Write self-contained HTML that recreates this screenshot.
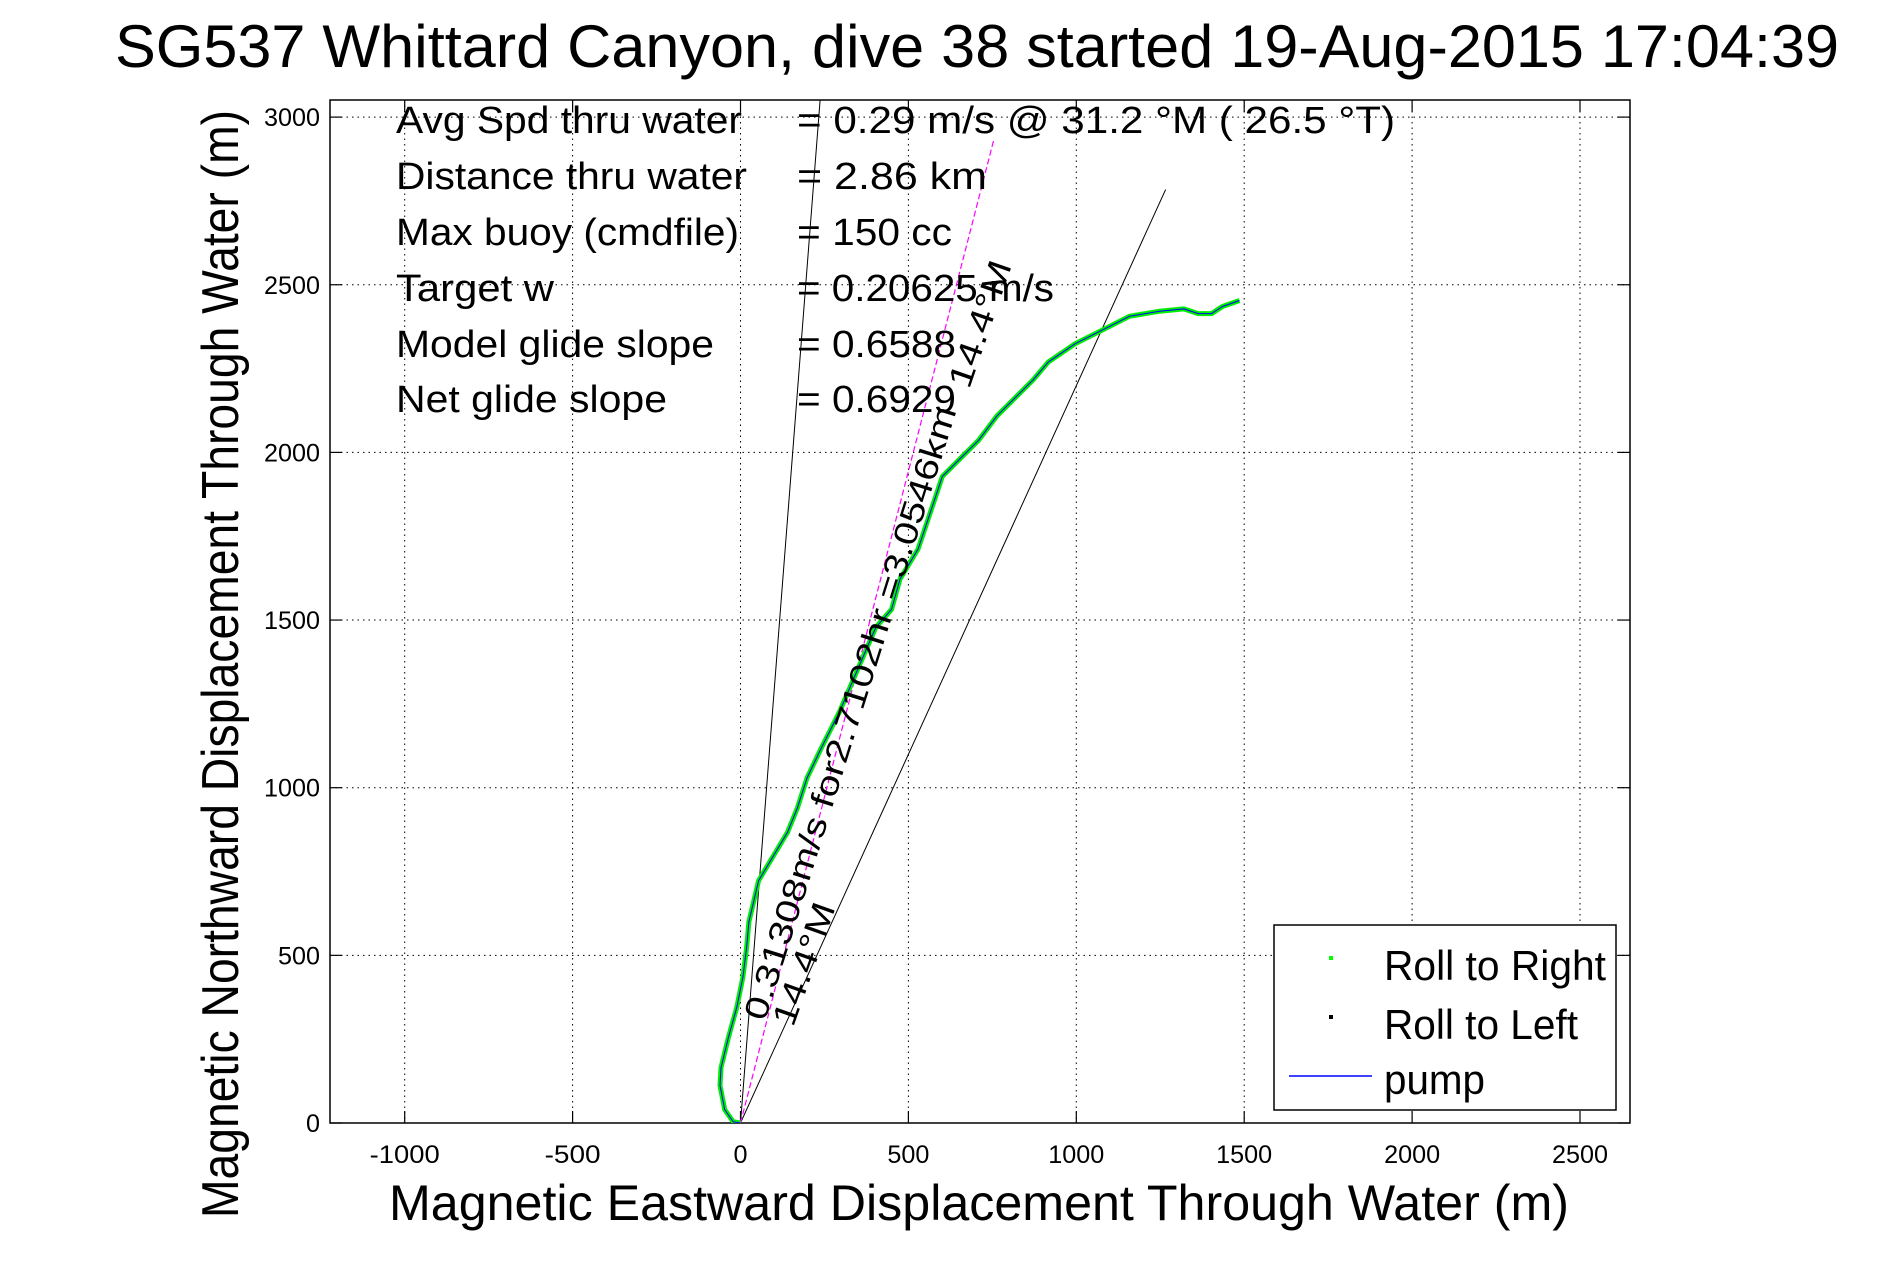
<!DOCTYPE html>
<html><head><meta charset="utf-8"><style>
html,body{margin:0;padding:0;background:#fff;}
svg text{font-family:"Liberation Sans",sans-serif;fill:#000;}
</style></head><body>
<svg id="chart" width="1891" height="1262" xmlns="http://www.w3.org/2000/svg">
<rect width="1891" height="1262" fill="#fff"/>
<defs><clipPath id="pc"><rect x="330" y="100" width="1300" height="1023"/></clipPath></defs>
<text x="115" y="67" font-size="60" textLength="1724" lengthAdjust="spacingAndGlyphs">SG537 Whittard Canyon, dive 38 started 19-Aug-2015 17:04:39</text>
<g id="grid"></g>
<g id="axes"></g>
<g id="marks" clip-path="url(#pc)"></g>
<g id="ann">
<text x="396" y="133" font-size="38" textLength="346" lengthAdjust="spacingAndGlyphs">Avg Spd thru water</text>
<text x="396" y="189" font-size="38" textLength="351" lengthAdjust="spacingAndGlyphs">Distance thru water</text>
<text x="396" y="245" font-size="38" textLength="343" lengthAdjust="spacingAndGlyphs">Max buoy (cmdfile)</text>
<text x="396" y="301" font-size="38" textLength="158" lengthAdjust="spacingAndGlyphs">Target w</text>
<text x="396" y="357" font-size="38" textLength="318" lengthAdjust="spacingAndGlyphs">Model glide slope</text>
<text x="396" y="412" font-size="38" textLength="271" lengthAdjust="spacingAndGlyphs">Net glide slope</text>
<text x="797" y="133" font-size="38" textLength="598" lengthAdjust="spacingAndGlyphs">=  0.29 m/s @  31.2 °M ( 26.5 °T)</text>
<text x="797" y="189" font-size="38" textLength="190" lengthAdjust="spacingAndGlyphs">=  2.86 km</text>
<text x="797" y="245" font-size="38" textLength="155" lengthAdjust="spacingAndGlyphs">= 150 cc</text>
<text x="797" y="301" font-size="38" textLength="257" lengthAdjust="spacingAndGlyphs">= 0.20625 m/s</text>
<text x="797" y="357" font-size="38" textLength="159" lengthAdjust="spacingAndGlyphs">= 0.6588</text>
<text x="797" y="412" font-size="38" textLength="159" lengthAdjust="spacingAndGlyphs">= 0.6929</text>
<text transform="translate(765,1022) rotate(-72.6)" font-size="33" textLength="641" lengthAdjust="spacingAndGlyphs">0.31308m/s for2.7102hr =3.0546km</text>
<text transform="translate(793,1028) rotate(-70.5)" font-size="33" textLength="128" lengthAdjust="spacingAndGlyphs">14.4°M</text>
<text transform="translate(969,390) rotate(-71)" font-size="33" textLength="132" lengthAdjust="spacingAndGlyphs">14.4°M</text>
</g>
<text transform="translate(238,1218) rotate(-90)" font-size="52" textLength="1108" lengthAdjust="spacingAndGlyphs">Magnetic Northward Displacement Through Water (m)</text>
<text x="389" y="1220" font-size="50" textLength="1180" lengthAdjust="spacingAndGlyphs">Magnetic Eastward Displacement Through Water (m)</text>
<g>
<rect x="1274" y="925" width="342" height="185" fill="#fff" stroke="#000" stroke-width="1.5"/>
<rect x="1329" y="956" width="4" height="4" fill="#00ff00"/>
<text x="1384" y="980" font-size="42" textLength="222" lengthAdjust="spacingAndGlyphs">Roll to Right</text>
<rect x="1329" y="1015" width="4" height="4" fill="#000"/>
<text x="1384" y="1039" font-size="42" textLength="194" lengthAdjust="spacingAndGlyphs">Roll to Left</text>
<line x1="1289" y1="1076" x2="1372" y2="1076" stroke="#0000ff" stroke-width="1.5"/>
<text x="1384" y="1094" font-size="42" textLength="101" lengthAdjust="spacingAndGlyphs">pump</text>
</g>
</svg>
<script>
const xTicks=[-1000,-500,0,500,1000,1500,2000,2500];
const yTicks=[0,500,1000,1500,2000,2500,3000];
const trackX=[0,-22,-47,-61,-58,-36,-11,7,18,25,54,97,140,169,198,241,295,349,403,450,475,529,565,583,601,655,709,763,817,871,917,996,1068,1158,1248,1320,1363,1403,1435,1486];
const trackY=[0,4,40,112,165,255,345,435,520,600,723,795,867,939,1029,1119,1227,1353,1478,1532,1622,1712,1820,1874,1928,1982,2036,2108,2162,2216,2270,2324,2360,2406,2421,2428,2414,2414,2435,2453];
const steepEnd=[237,3050];
const headingEnd=[1266,2784];
const currentEnd=[755,2935];
const L=330,R=1630,T=100,B=1123;
const X=v=>740.5+v*0.3358;
const Y=v=>1123-v*0.3353;
const NS="http://www.w3.org/2000/svg";
function mk(tag,attrs,parent){const e=document.createElementNS(NS,tag);for(const k in attrs)e.setAttribute(k,attrs[k]);document.getElementById(parent).appendChild(e);return e;}
xTicks.forEach(v=>{
  const g=mk('line',{x1:X(v),x2:X(v),y1:T,y2:B,stroke:'#000','stroke-width':1,'stroke-dasharray':'1.5,4'},'grid');
  
  
  const t1=mk('line',{x1:X(v),x2:X(v),y1:B,y2:B-12,stroke:'#000','stroke-width':1.2},'axes');
  
  
  const t2=mk('line',{x1:X(v),x2:X(v),y1:T,y2:T+12,stroke:'#000','stroke-width':1.2},'axes');
  
  
  const s=String(v);
  const lb=mk('text',{x:X(v),y:1163,'font-size':25,'text-anchor':'middle',textLength:s.length*14,lengthAdjust:'spacingAndGlyphs'},'axes');
  lb.textContent=s;
  
  
});
yTicks.forEach(v=>{
  const g=mk('line',{x1:L,x2:R,y1:Y(v),y2:Y(v),stroke:'#000','stroke-width':1,'stroke-dasharray':'1.5,4'},'grid');
  
  
  const t1=mk('line',{x1:L,x2:L+12,y1:Y(v),y2:Y(v),stroke:'#000','stroke-width':1.2},'axes');
  
  
  const t2=mk('line',{x1:R,x2:R-12,y1:Y(v),y2:Y(v),stroke:'#000','stroke-width':1.2},'axes');
  
  
  const s=String(v);
  const lb=mk('text',{x:320,y:Y(v)+9,'font-size':25,'text-anchor':'end',textLength:s.length*14,lengthAdjust:'spacingAndGlyphs'},'axes');
  lb.textContent=s;
  
  
});
const frame=mk('rect',{x:L,y:T,width:R-L,height:B-T,fill:'none',stroke:'#000','stroke-width':1.5},'axes');


const l1=mk('line',{x1:X(0),y1:Y(0),x2:X(steepEnd[0]),y2:Y(steepEnd[1]),stroke:'#000','stroke-width':1},'marks');


const l2=mk('line',{x1:X(0),y1:Y(0),x2:X(headingEnd[0]),y2:Y(headingEnd[1]),stroke:'#000','stroke-width':1},'marks');


const l3=mk('line',{x1:X(0),y1:Y(0),x2:X(currentEnd[0]),y2:Y(currentEnd[1]),stroke:'#ff00ff','stroke-width':1.2,'stroke-dasharray':'6,3'},'marks');


const pts=trackX.map((x,i)=>X(x).toFixed(1)+','+Y(trackY[i]).toFixed(1)).join(' ');
const tg=mk('polyline',{points:pts,fill:'none',stroke:'#00ee00','stroke-width':5,'stroke-linejoin':'round'},'marks');


const tb=mk('polyline',{points:pts,fill:'none',stroke:'#0000ff','stroke-width':1,'stroke-linejoin':'round'},'marks');


</script>
</body></html>
